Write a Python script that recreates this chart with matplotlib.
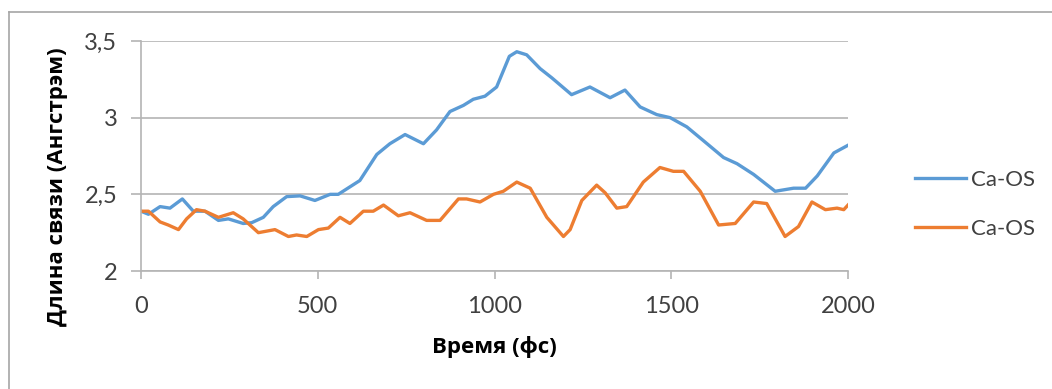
import numpy as np
import matplotlib
matplotlib.use('Agg')
import matplotlib.pyplot as plt
from matplotlib.lines import Line2D

plt.rcParams['font.family'] = ['Lato', 'Open Sans', 'DejaVu Sans']

# data
t_blue = [0, 21, 54, 82, 117, 148, 181, 219, 247, 289, 313, 346, 374, 412, 450, 492,
          535, 558, 619, 667, 704, 747, 799, 836, 874, 912, 940, 973, 1006, 1042,
          1063, 1091, 1129, 1162, 1218, 1270, 1327, 1369, 1412, 1459, 1497, 1544,
          1591, 1648, 1686, 1733, 1794, 1846, 1880, 1913, 1960, 2000]
d_blue = [2.39, 2.37, 2.42, 2.41, 2.47, 2.39, 2.39, 2.33, 2.34, 2.31, 2.315, 2.35,
          2.42, 2.485, 2.49, 2.46, 2.50, 2.50, 2.59, 2.76, 2.83, 2.89, 2.83, 2.92,
          3.04, 3.08, 3.12, 3.14, 3.20, 3.40, 3.43, 3.41, 3.32, 3.26, 3.15, 3.20,
          3.13, 3.18, 3.07, 3.02, 3.00, 2.94, 2.85, 2.74, 2.70, 2.63, 2.52, 2.54,
          2.54, 2.62, 2.77, 2.82]

t_orange = [0, 21, 54, 77, 106, 129, 157, 181, 219, 261, 289, 332, 379, 417, 440,
            469, 502, 530, 563, 591, 629, 657, 686, 728, 761, 808, 846, 898, 921,
            959, 997, 1025, 1063, 1101, 1148, 1195, 1214, 1247, 1289, 1313, 1346,
            1374, 1421, 1468, 1506, 1535, 1582, 1634, 1681, 1733, 1770, 1822, 1860,
            1898, 1936, 1969, 1988, 2000]
d_orange = [2.39, 2.39, 2.32, 2.30, 2.27, 2.34, 2.40, 2.39, 2.35, 2.38, 2.34, 2.25,
            2.27, 2.225, 2.235, 2.225, 2.27, 2.28, 2.35, 2.31, 2.39, 2.39, 2.43,
            2.36, 2.38, 2.33, 2.33, 2.47, 2.47, 2.45, 2.50, 2.52, 2.58, 2.54, 2.35,
            2.225, 2.27, 2.46, 2.56, 2.51, 2.41, 2.42, 2.58, 2.675, 2.65, 2.65,
            2.52, 2.30, 2.31, 2.45, 2.44, 2.225, 2.29, 2.45, 2.40, 2.41, 2.40, 2.43]

series_names = ['Ca-OS', 'Ca-OS']
y_ticks = [2, 2.5, 3, 3.5]
y_ticklabels = ['2', '2,5', '3', '3,5']
x_ticks = [0, 500, 1000, 1500, 2000]

blue = '#5B9BD5'
orange = '#ED7D31'
grid_c = '#B4B4B4'
text_c = '#404040'

fig = plt.figure(figsize=(10.52, 3.89), dpi=100)
ax = fig.add_axes([141/1052, 1 - 271/389, 707/1052, 230/389])

ax.plot(t_blue, d_blue, color=blue, lw=2.4, solid_joinstyle='round', label=series_names[0])
ax.plot(t_orange, d_orange, color=orange, lw=2.4, solid_joinstyle='round', label=series_names[1])

ax.set_xlim(0, 2000)
ax.set_ylim(2, 3.5)
ax.set_xticks(x_ticks)
ax.set_yticks(y_ticks)
ax.set_yticklabels(y_ticklabels)

ax.grid(axis='y', color=grid_c, lw=1.2)
ax.set_axisbelow(True)
for s in ['top', 'right']:
    ax.spines[s].set_visible(False)
for s in ['left', 'bottom']:
    ax.spines[s].set_color(grid_c)
    ax.spines[s].set_linewidth(1.2)
ax.tick_params(axis='y', length=7, width=1.2, color=grid_c, pad=10, labelsize=17, labelcolor=text_c)
ax.tick_params(axis='x', length=6, width=1.2, color=grid_c, pad=12, labelsize=17, labelcolor=text_c)

ax.set_xlabel('Время (фс)', fontsize=16, fontweight='bold', labelpad=14,
              family=['Open Sans', 'DejaVu Sans'])
ax.set_ylabel('Длина связи (Ангстрэм)', fontsize=16, fontweight='bold',
              family=['Open Sans', 'DejaVu Sans'])
# label sits a bit below the middle of the plot, as in the original
ax.yaxis.set_label_coords(-0.103, 0.365)

ax.legend(loc='center left', bbox_to_anchor=(0.851, 0.475), bbox_transform=fig.transFigure,
          frameon=False, fontsize=16, handlelength=2.3, handletextpad=0.2,
          labelspacing=1.3, labelcolor=text_c)

# outer chart border (top and left edges visible)
fig.add_artist(Line2D([9/1052, 9/1052], [0, 1 - 12/389], color='#A6A6A6', lw=1.2, transform=fig.transFigure))
fig.add_artist(Line2D([9/1052, 1], [1 - 12/389, 1 - 12/389], color='#A6A6A6', lw=1.2, transform=fig.transFigure))

fig.savefig('out.png', dpi=100)
